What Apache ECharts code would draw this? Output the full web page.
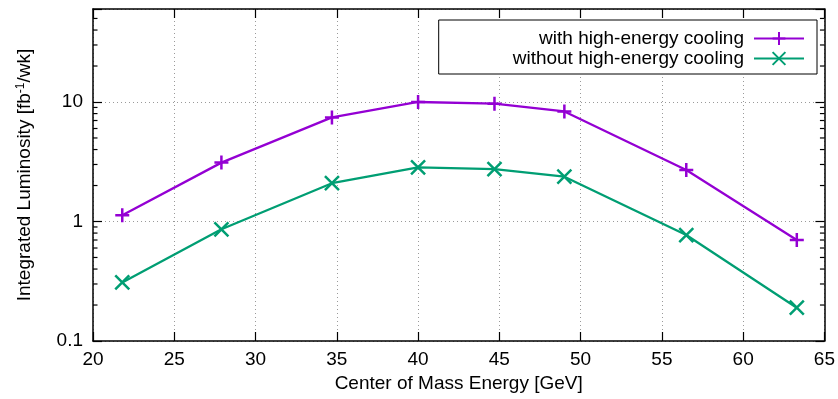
<!DOCTYPE html>
<html><head><meta charset="utf-8">
<script src="https://cdn.jsdelivr.net/npm/echarts@6/dist/echarts.min.js"></script>
<style>html,body{margin:0;padding:0;background:#fff}#c{width:838px;height:399px}</style>
</head><body><div id="c"></div>
<script>
// ---- data ----
const energy = [21.8, 27.9, 34.7, 40.0, 44.7, 49.0, 56.5, 63.3];
const withCooling = [1.13, 3.11, 7.43, 10.0, 9.68, 8.34, 2.70, 0.70];
const withoutCooling = [0.309, 0.861, 2.09, 2.84, 2.74, 2.37, 0.77, 0.19];
const seriesNames = ['with high-energy cooling', 'without high-energy cooling'];
const xMin = 20, xMax = 65, xStep = 5;
const yMin = 0.1, yMax = 60;
const yTickValues = [0.1, 1, 10];
const yTickLabels = ['0.1', '1', '10'];
const yMinorTicks = [0.2, 0.3, 0.4, 0.5, 0.6, 0.7, 0.8, 0.9, 2, 3, 4, 5, 6, 7, 8, 9, 20, 30, 40, 50];
const xTitle = 'Center of Mass Energy [GeV]';

const FONT = 'Liberation Sans';
const PURPLE = '#9400D3', GREEN = '#009E73';
const plusPath = 'path://M0,5L10,5M5,0L5,10';
const crossPath = 'path://M0,0L10,10M0,10L10,0';

const chart = echarts.init(document.getElementById('c'), null, {renderer: 'canvas'});
const gridLine = {show: true, lineStyle: {color: '#9a9a9a', width: 1, type: [1, 3]}};
const axisLine = {show: true, lineStyle: {color: '#000', width: 1.5}};

function yLabel(v) {
  for (let i = 0; i < yTickValues.length; i++) {
    if (Math.abs(Math.log10(v) - Math.log10(yTickValues[i])) < 1e-6) return yTickLabels[i];
  }
  return '';
}

const option = {
  animation: false,
  backgroundColor: '#fff',
  textStyle: {fontFamily: FONT},
  grid: {left: 93, right: 13, top: 9, bottom: 58, containLabel: false},
  legend: {
    orient: 'vertical', right: 21, top: 20, align: 'right',
    data: seriesNames,
    itemWidth: 50, itemHeight: 16, itemGap: 1,
    padding: [9, 12, 6, 74],
    borderColor: '#000', borderWidth: 1,
    backgroundColor: '#fff',
    textStyle: {fontFamily: FONT, fontSize: 19, color: '#000', padding: [0, 5, 0, 0]}
  },
  xAxis: [{
    type: 'value', min: xMin, max: xMax, interval: xStep,
    name: xTitle, nameLocation: 'middle', nameGap: 33,
    nameTextStyle: {fontFamily: FONT, fontSize: 19, color: '#000'},
    axisLine: axisLine,
    axisTick: {show: true, inside: true, length: 9, lineStyle: {color: '#000', width: 1.2}},
    axisLabel: {fontFamily: FONT, fontSize: 19, color: '#000', margin: 9},
    splitLine: gridLine
  }, {
    type: 'value', position: 'top', min: xMin, max: xMax, interval: xStep,
    axisLine: axisLine,
    axisTick: {show: true, inside: true, length: 9, lineStyle: {color: '#000', width: 1.2}},
    axisLabel: {show: false}, splitLine: {show: false}
  }],
  yAxis: [{
    type: 'log', logBase: 10, min: yMin, max: yMax,
    name: 'Integrated Luminosity [fb{sup|-1}/wk]',
    nameLocation: 'middle', nameGap: 58, nameRotate: 90,
    nameTextStyle: {fontFamily: FONT, fontSize: 19, color: '#000',
      rich: {sup: {fontFamily: FONT, fontSize: 12, color: '#000', verticalAlign: 'top', padding: [0, 0, 8, 0]}}},
    axisLine: axisLine,
    axisTick: {show: true, inside: true, length: 9, lineStyle: {color: '#000', width: 1.2}},
    axisLabel: {fontFamily: FONT, fontSize: 19, color: '#000', margin: 10, formatter: yLabel},
    splitLine: gridLine
  }, {
    type: 'log', logBase: 10, min: yMin, max: yMax, position: 'right',
    axisLine: axisLine,
    axisTick: {show: true, inside: true, length: 9, lineStyle: {color: '#000', width: 1.2}},
    axisLabel: {show: false}, splitLine: {show: false}
  }],
  series: [{
    name: seriesNames[0], type: 'line',
    data: energy.map((x, i) => [x, withCooling[i]]),
    symbol: plusPath, symbolSize: 14, showAllSymbol: true,
    lineStyle: {color: PURPLE, width: 2.3},
    itemStyle: {color: PURPLE, borderColor: PURPLE, borderWidth: 2.5},
    z: 5
  }, {
    name: seriesNames[1], type: 'line',
    data: energy.map((x, i) => [x, withoutCooling[i]]),
    symbol: crossPath, symbolSize: 14, showAllSymbol: true,
    lineStyle: {color: GREEN, width: 2.3},
    itemStyle: {color: GREEN, borderColor: GREEN, borderWidth: 2.5},
    z: 5
  }, {
    name: 'minorTicks', type: 'custom', silent: true, z: 6,
    data: yMinorTicks.map(v => [xMin, v]),
    renderItem: function (params, api) {
      const y = api.coord([xMin, api.value(1)])[1];
      const cs = params.coordSys;
      const st = {stroke: '#000', lineWidth: 1.2};
      return {type: 'group', children: [
        {type: 'line', shape: {x1: cs.x, y1: y, x2: cs.x + 4.5, y2: y}, style: st},
        {type: 'line', shape: {x1: cs.x + cs.width - 4.5, y1: y, x2: cs.x + cs.width, y2: y}, style: st}
      ]};
    }
  }]
};
chart.setOption(option);
</script>
</body></html>
